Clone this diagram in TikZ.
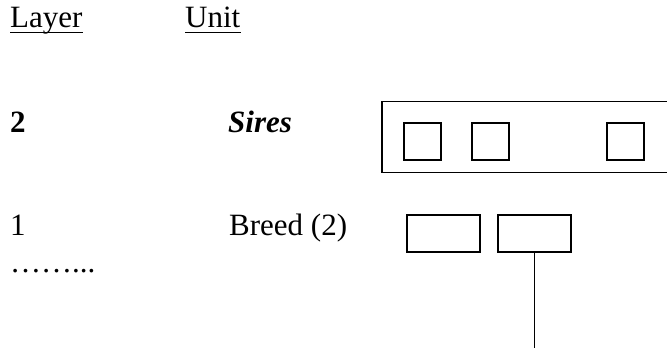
\documentclass[tikz,border=0pt]{standalone}
\usepackage{fontspec}
\setmainfont{Liberation Serif}
\begin{document}
\begin{tikzpicture}[x=1pt,y=-1pt,
  txt/.style={anchor=base west,inner sep=0pt,font=\fontsize{31}{36}\selectfont},
  box/.style={draw,line width=1.2pt,inner sep=0pt},
  sq/.style={box,minimum width=37pt,minimum height=37pt},
  bb/.style={box,minimum width=73pt,minimum height=37pt},
  uline/.style={line width=1.4pt}]
\useasboundingbox (0,0) rectangle (667,351);
\clip (0,0) rectangle (667,351);
% headers
\node[txt] (layer) at (10,27) {Layer};
\node[txt] (unit) at (185,27) {Unit};
\draw[uline] ([yshift=-5.3pt]layer.base west) -- ([yshift=-5.3pt]layer.base east);
\draw[uline] ([yshift=-5.3pt]unit.base west) -- ([yshift=-5.3pt]unit.base east);
% layer 2
\node[txt] (l2) at (10,132) {\textbf{2}};
\node[txt] (sires) at (228,132) {\textbf{\textit{Sires}}};
% layer 1
\node[txt] (l1) at (10,235) {1};
\node[txt] (breed) at (229,235) {Breed (2)};
\node[txt] (dots) at (10,272) {……...};
% sires boxes
\node[box,minimum width=318pt,minimum height=71pt] (outer) at (541,137) {};
\node[sq] (s1) at (422.5,141.5) {};
\node[sq] (s2) at (490.5,141.5) {};
\node[sq] (s3) at (625.5,141.5) {};
% breed boxes
\node[bb] (b1) at (443.5,233.5) {};
\node[bb] (b2) at (534.5,233.5) {};
\coordinate (end) at (534.5,348);
\draw[line width=1.2pt] (b2.south) -- (end);
\end{tikzpicture}
\end{document}
